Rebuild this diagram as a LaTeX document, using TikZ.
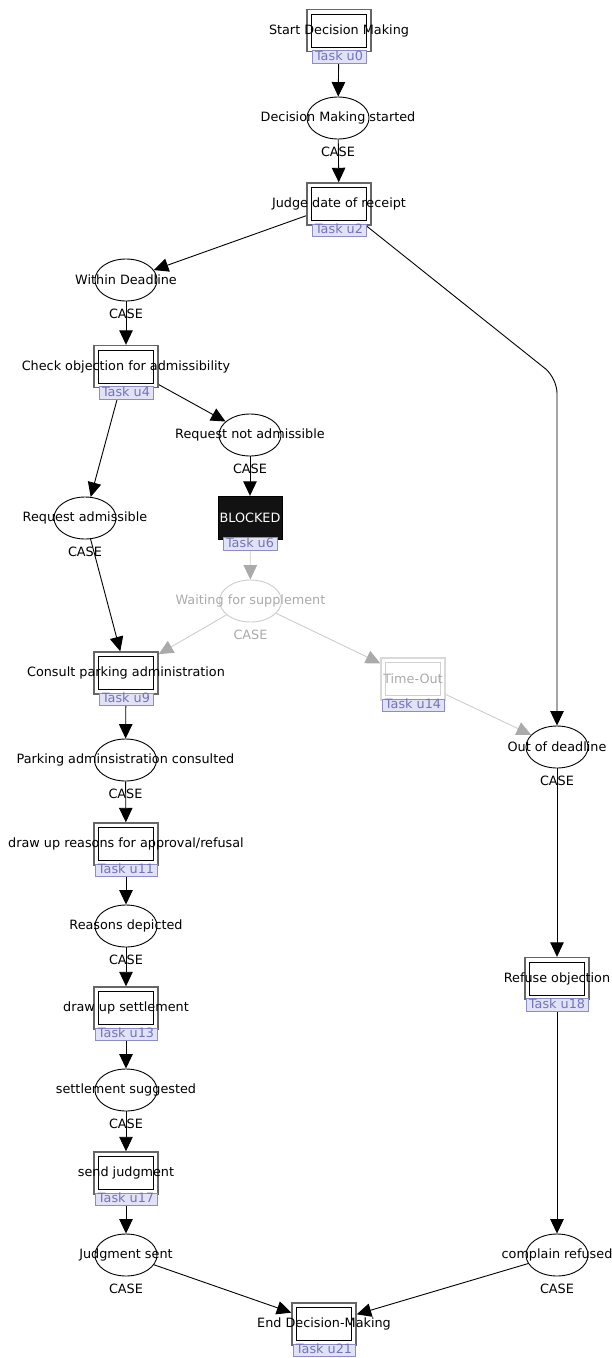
\documentclass[tikz,border=0pt]{standalone}
\usepackage{fontspec}
\setmainfont{DejaVu Sans}
\usetikzlibrary{arrows.meta,positioning,shapes.geometric}
\pgfdeclarelayer{bg}
\pgfsetlayers{bg,main}
\definecolor{labfill}{RGB}{226,226,246}
\definecolor{labdraw}{RGB}{140,140,200}
\definecolor{labtext}{RGB}{115,115,185}
\definecolor{distext}{RGB}{170,170,170}
\definecolor{disline}{RGB}{205,205,205}
\definecolor{disarrow}{RGB}{170,170,170}
\begin{document}
\begin{tikzpicture}[x=1pt,y=-1pt,
  font=\fontsize{12.8}{15}\selectfont,
  task/.style={draw=black!60, line width=1.4pt, fill=white, minimum width=64pt, minimum height=42pt, inner sep=0pt,
    path picture={\draw[black,line width=1pt] ([shift={(4.5pt,-4.5pt)}]path picture bounding box.north west) rectangle ([shift={(-4.5pt,4.5pt)}]path picture bounding box.south east);}},
  dtask/.style={draw=black!15, line width=1.4pt, fill=white, minimum width=64pt, minimum height=42pt, inner sep=0pt,
    path picture={\draw[black!18,line width=1pt] ([shift={(4.5pt,-4.5pt)}]path picture bounding box.north west) rectangle ([shift={(-4.5pt,4.5pt)}]path picture bounding box.south east);}},
  tasklab/.style={draw=labdraw, fill=labfill, text=labtext, line width=0.8pt, inner xsep=3pt, inner ysep=0pt,
    text height=9.8pt, text depth=2.6pt, below=-2pt},
  place/.style={ellipse, draw=black, fill=white, line width=0.9pt, minimum width=62pt, minimum height=42pt, inner sep=0pt},
  dplace/.style={ellipse, draw=disline, fill=white, line width=0.9pt, minimum width=62pt, minimum height=42pt, inner sep=0pt},
  casebelow/.style={label={[label distance=4pt]below:CASE}},
  dcasebelow/.style={label={[label distance=4pt,text=distext]below:CASE}},
  flow/.style={draw=black, line width=0.9pt, -{Triangle[length=14.5pt,width=13.5pt]}},
  dflow/.style={draw=disline, line width=0.9pt, -{Triangle[length=14.5pt,width=13.5pt,color=disarrow,fill=disarrow]}}
]
\useasboundingbox (0,0) rectangle (611,1358);

% transitions
\node[task, label={center:Start Decision Making}] (u0) at (339,30.5) {};
\node[tasklab] (u0l) at (u0.south) {Task u0};
\node[task, label={center:Judge date of receipt}] (u2) at (339,204) {};
\node[tasklab] (u2l) at (u2.south) {Task u2};
\node[task, label={center:Check objection for admissibility}] (u4) at (126,366.5) {};
\node[tasklab] (u4l) at (u4.south) {Task u4};
\node[fill=black!93, draw=black, minimum width=64pt, minimum height=43pt, inner sep=0pt, text=white] (u6) at (250,517.5) {BLOCKED};
\node[tasklab] (u6l) at (u6.south) {Task u6};
\node[task, label={center:Consult parking administration}] (u9) at (126,673) {};
\node[tasklab] (u9l) at (u9.south) {Task u9};
\node[dtask, label={[text=distext]center:Time-Out}] (u14) at (413,679) {};
\node[tasklab] (u14l) at (u14.south) {Task u14};
\node[task, label={center:draw up reasons for approval/refusal}] (u11) at (126,844) {};
\node[tasklab] (u11l) at (u11.south) {Task u11};
\node[task, label={center:draw up settlement}] (u13) at (126,1008) {};
\node[tasklab] (u13l) at (u13.south) {Task u13};
\node[task, label={center:send judgment}] (u17) at (126,1173) {};
\node[tasklab] (u17l) at (u17.south) {Task u17};
\node[task, label={center:Refuse objection}] (u18) at (557,978.5) {};
\node[tasklab] (u18l) at (u18.south) {Task u18};
\node[task, label={center:End Decision-Making}] (u21) at (324,1324) {};
\node[tasklab] (u21l) at (u21.south) {Task u21};

% places
\node[place, casebelow, label={center:Decision Making started}] (p1) at (338,118) {};
\node[place, casebelow, label={center:Within Deadline}] (p2) at (126,280) {};
\node[place, casebelow, label={center:Request not admissible}] (p3) at (250,435) {};
\node[place, casebelow, label={center:Request admissible}] (p4) at (85,518) {};
\node[dplace, dcasebelow, label={[text=distext]center:Waiting for supplement}] (p5) at (250.5,601) {};
\node[place, casebelow, label={center:Out of deadline}] (p6) at (557,747) {};
\node[place, casebelow, label={center:Parking adminsistration consulted}] (p7) at (125.5,760) {};
\node[place, casebelow, label={center:Reasons depicted}] (p8) at (126,926) {};
\node[place, casebelow, label={center:settlement suggested}] (p9) at (126,1090) {};
\node[place, casebelow, label={center:Judgment sent}] (p10) at (126,1255) {};
\node[place, casebelow, label={center:complain refused}] (p11) at (557,1255) {};

\coordinate (bend) at (557,378);

\begin{pgfonlayer}{bg}
\draw[flow] (u0.center) -- (p1);
\draw[flow] (p1) -- (u2);
\draw[flow] (u2.center) -- (p2);
\draw[flow, rounded corners=15pt] (u2.center) -- (bend) -- (p6);
\draw[flow] (p2) -- (u4);
\draw[flow] (u4.center) -- (p3);
\draw[flow] (u4.center) -- (p4);
\draw[flow] (p3) -- (u6);
\draw[dflow] (u6.center) -- (p5);
\draw[flow] (p4) -- (u9);
\draw[dflow] (p5) -- (u9);
\draw[dflow] (p5) -- (u14);
\draw[dflow] (u14.center) -- (p6);
\draw[flow] (u9.center) -- (p7);
\draw[flow] (p7) -- (u11);
\draw[flow] (u11.center) -- (p8);
\draw[flow] (p8) -- (u13);
\draw[flow] (u13.center) -- (p9);
\draw[flow] (p9) -- (u17);
\draw[flow] (u17.center) -- (p10);
\draw[flow] (p10) -- (u21);
\draw[flow] (p6) -- (u18);
\draw[flow] (u18.center) -- (p11);
\draw[flow] (p11) -- (u21);
\end{pgfonlayer}
\end{tikzpicture}
\end{document}
